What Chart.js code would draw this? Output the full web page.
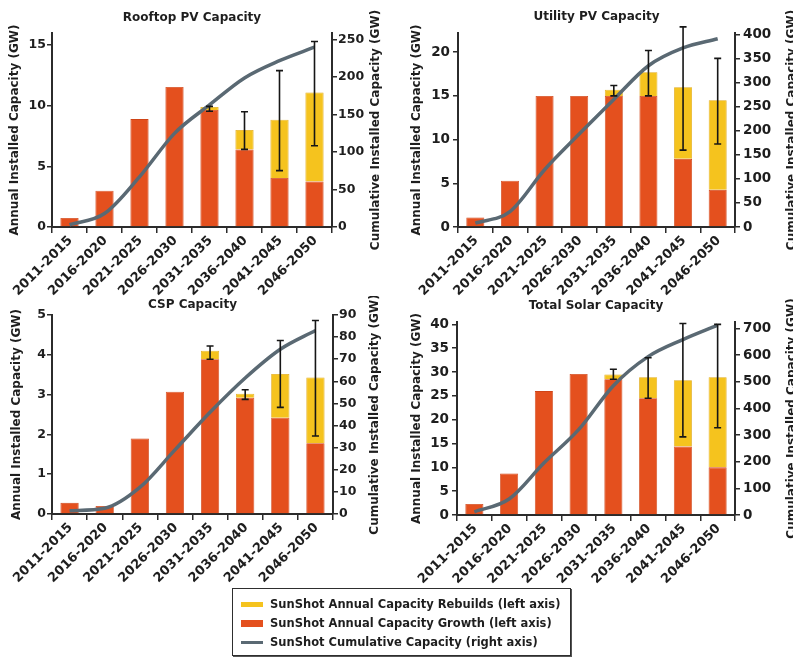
<!DOCTYPE html>
<html>
<head>
<meta charset="utf-8">
<script src="https://cdn.jsdelivr.net/npm/chart.js@4.4.1/dist/chart.umd.min.js"></script>
<style>
    html, body { margin: 0; padding: 0; background: #fff; width: 793px; height: 661px; overflow: hidden; position: relative; }
    .panel { position: absolute; }
    #legend { position: absolute; left: 232px; top: 588px; width: 337px; height: 66px; border: 1.5px solid #2e2e2e; box-shadow: 1px 1px 0 #555; background: #fff; font-family: 'DejaVu Sans', sans-serif; font-weight: bold; font-size: 11.5px; color: #1e1e1e; }
    #legend .row { position: absolute; left: 8px; height: 18px; line-height: 18px; white-space: nowrap; }
    #legend .sw { display: inline-block; width: 22px; vertical-align: middle; margin-right: 7px; }
</style>
</head>
<body>
<div class="panel" style="left:0;top:0"><canvas id="chartRooftop" width="397" height="296"></canvas></div>
<div class="panel" style="left:397px;top:0"><canvas id="chartUtility" width="406" height="296"></canvas></div>
<div class="panel" style="left:0;top:296px"><canvas id="chartCsp" width="397" height="300"></canvas></div>
<div class="panel" style="left:397px;top:296px"><canvas id="chartTotal" width="406" height="300"></canvas></div>
<div id="legend">
    <div class="row" style="top:6px"><span class="sw" style="height:5px;background:#f5c31e"></span>SunShot Annual Capacity Rebuilds (left axis)</div>
    <div class="row" style="top:25px"><span class="sw" style="height:7px;background:#e4501e"></span>SunShot Annual Capacity Growth (left axis)</div>
    <div class="row" style="top:44px"><span class="sw" style="height:3px;background:#5a6973"></span>SunShot Cumulative Capacity (right axis)</div>
</div>
<script>
// periods on the x axis
var periods = ['2011-2015', '2016-2020', '2021-2025', '2026-2030', '2031-2035', '2036-2040', '2041-2045', '2046-2050'];

// Rooftop PV
var rooftopGrowth = [0.75, 3.0, 8.9, 11.55, 9.65, 6.4, 4.05, 3.75];
var rooftopRebuilds = [0, 0, 0, 0, 0.25, 1.6, 4.8, 7.35];
var rooftopCumulative = [3, 18, 67, 125, 163, 199, 222, 240];
var rooftopErrLow = [null, null, null, null, 9.55, 6.4, 4.65, 6.7];
var rooftopErrHigh = [null, null, null, null, 9.95, 9.5, 12.9, 15.3];
var rooftopLeftTicks = [0, 5, 10, 15];
var rooftopRightTicks = [0, 50, 100, 150, 200, 250];

// Utility PV
var utilityGrowth = [1.1, 5.3, 15.0, 15.0, 15.0, 15.0, 7.8, 4.25];
var utilityRebuilds = [0, 0, 0, 0, 0.7, 2.7, 8.2, 10.25];
var utilityCumulative = [8, 32, 119, 193, 265, 335, 372, 391];
var utilityErrLow = [null, null, null, null, 15.0, 15.0, 8.8, 9.5];
var utilityErrHigh = [null, null, null, null, 16.2, 20.2, 22.9, 19.3];
var utilityLeftTicks = [0, 5, 10, 15, 20];
var utilityRightTicks = [0, 50, 100, 150, 200, 250, 300, 350, 400];

// CSP
var cspGrowth = [0.28, 0.2, 1.9, 3.07, 3.89, 2.92, 2.42, 1.78];
var cspRebuilds = [0, 0, 0, 0, 0.21, 0.1, 1.1, 1.65];
var cspCumulative = [1.5, 2.6, 12, 29, 46, 61.5, 74.5, 83];
var cspErrLow = [null, null, null, null, 3.89, 2.88, 2.68, 1.96];
var cspErrHigh = [null, null, null, null, 4.22, 3.12, 4.36, 4.86];
var cspLeftTicks = [0, 1, 2, 3, 4, 5];
var cspRightTicks = [0, 10, 20, 30, 40, 50, 60, 70, 80, 90];

// Total solar
var totalGrowth = [2.3, 8.7, 26.0, 29.6, 28.5, 24.5, 14.4, 10.0];
var totalRebuilds = [0, 0, 0, 0, 1.0, 4.4, 13.9, 18.9];
var totalCumulative = [12, 60, 195, 320, 485, 594, 658, 712];
var totalErrLow = [null, null, null, null, 28.5, 24.5, 16.4, 18.3];
var totalErrHigh = [null, null, null, null, 30.6, 33.0, 40.2, 40.0];
var totalLeftTicks = [0, 5, 10, 15, 20, 25, 30, 35, 40];
var totalRightTicks = [0, 100, 200, 300, 400, 500, 600, 700];

Chart.defaults.font.family = "'DejaVu Sans', sans-serif";
Chart.defaults.font.weight = 'bold';
Chart.defaults.font.size = 12;
Chart.defaults.color = '#1e1e1e';

var SolarClass = function ()
{
    var _self = this;
    var axisColor = '#2b2b2b';

    // error bars on top of the stacked bars
    this.errorBars = function (low, high)
    {
        return {
            id: 'errorBars',
            afterDatasetsDraw: function (chart) {
                var meta = chart.getDatasetMeta(1);
                var y = chart.scales.y;
                var ctx = chart.ctx;
                ctx.save();
                ctx.strokeStyle = '#161616';
                ctx.lineWidth = 1.6;
                low.forEach(function (lo, i) {
                    if (lo === null)
                        return;
                    var x = meta.data[i].x;
                    var yl = y.getPixelForValue(lo), yh = y.getPixelForValue(high[i]);
                    ctx.beginPath();
                    ctx.moveTo(x, yl); ctx.lineTo(x, yh);
                    ctx.moveTo(x - 3.5, yl); ctx.lineTo(x + 3.5, yl);
                    ctx.moveTo(x - 3.5, yh); ctx.lineTo(x + 3.5, yh);
                    ctx.stroke();
                });
                ctx.restore();
            }
        };
    }

    // right axis title reads bottom to top, like the left one
    this.rightTitle = function (text, x)
    {
        return {
            id: 'rightTitle',
            afterDraw: function (chart) {
                var ctx = chart.ctx;
                var a = chart.chartArea;
                ctx.save();
                ctx.translate(x, (a.top + a.bottom) / 2);
                ctx.rotate(-Math.PI / 2);
                ctx.font = "bold 12px 'DejaVu Sans', sans-serif";
                ctx.fillStyle = '#1e1e1e';
                ctx.textAlign = 'center';
                ctx.textBaseline = 'middle';
                ctx.fillText(text, 0, 0);
                ctx.restore();
            }
        };
    }

    this.build = function (id, p)
    {
        return new Chart(document.getElementById(id), {
            type: 'bar',
            data: {
                labels: periods,
                datasets: [{
                        label: 'SunShot Annual Capacity Growth (left axis)',
                        data: p.growth,
                        backgroundColor: '#e4501e',
                        borderColor: '#cf4417',
                        borderWidth: 0.8,
                        barPercentage: 0.52,
                        categoryPercentage: 1,
                        order: 1
                    }, {
                        label: 'SunShot Annual Capacity Rebuilds (left axis)',
                        data: p.rebuilds,
                        backgroundColor: '#f5c31e',
                        borderColor: '#e0a816',
                        borderWidth: 0.8,
                        barPercentage: 0.52,
                        categoryPercentage: 1,
                        order: 1
                    }, {
                        type: 'line',
                        label: 'SunShot Cumulative Capacity (right axis)',
                        data: p.cumulative,
                        yAxisID: 'y1',
                        borderColor: '#5a6973',
                        borderWidth: 3.5,
                        pointRadius: 0,
                        cubicInterpolationMode: 'monotone',
                        order: 0
                    }]
            },
            options: {
                responsive: false,
                animation: false,
                layout: { padding: 0 },
                plugins: {
                    legend: { display: false },
                    tooltip: { enabled: false },
                    title: {
                        display: true,
                        text: p.title,
                        fullSize: false,
                        font: { size: 12, weight: 'bold' },
                        color: '#1e1e1e',
                        padding: { top: p.titleTop, bottom: p.titleBottom }
                    }
                },
                scales: {
                    x: {
                        stacked: true,
                        grid: { drawOnChartArea: false, tickLength: 6, color: axisColor, lineWidth: 1.5 },
                        border: { color: axisColor, width: 2 },
                        ticks: { autoSkip: false, minRotation: 45, maxRotation: 45, padding: 0, labelOffset: 1, font: { size: 13, weight: 'bold' } },
                        afterFit: function (s) { s.height = p.xHeight; }
                    },
                    y: {
                        stacked: true,
                        position: 'left',
                        min: 0,
                        max: p.yMax,
                        afterBuildTicks: function (s) { s.ticks = p.leftTicks.map(function (v) { return { value: v }; }); },
                        grid: { drawOnChartArea: false, tickLength: 5, color: axisColor, lineWidth: 1.5 },
                        border: { color: axisColor, width: 2 },
                        ticks: { padding: p.tickPad, font: { size: p.tickSize, weight: 'bold' } },
                        title: {
                            display: true,
                            text: 'Annual Installed Capacity (GW)',
                            font: { size: 12, weight: 'bold' },
                            padding: { top: p.leftTitlePad, bottom: 0 }
                        },
                        afterFit: function (s) { s.width = p.yWidth; }
                    },
                    y1: {
                        position: 'right',
                        min: 0,
                        max: p.y1Max,
                        afterBuildTicks: function (s) { s.ticks = p.rightTicks.map(function (v) { return { value: v }; }); },
                        grid: { drawOnChartArea: false, tickLength: 5, color: axisColor, lineWidth: 1.5 },
                        border: { color: axisColor, width: 2 },
                        ticks: { padding: p.tickPad, font: { size: p.tickSize, weight: 'bold' } },
                        afterFit: function (s) { s.width = p.y1Width; }
                    }
                }
            },
            plugins: [_self.errorBars(p.errLow, p.errHigh), _self.rightTitle('Cumulative Installed Capacity (GW)', p.rightTitleX)]
        });
    }

    this.init = function ()
    {
        _self.build('chartRooftop', {
            title: 'Rooftop PV Capacity', growth: rooftopGrowth, rebuilds: rooftopRebuilds, cumulative: rooftopCumulative,
            errLow: rooftopErrLow, errHigh: rooftopErrHigh, leftTicks: rooftopLeftTicks, rightTicks: rooftopRightTicks,
            yMax: 16, y1Max: 259, titleTop: 10.2, titleBottom: 8.4, xHeight: 69, yWidth: 52, y1Width: 65,
            leftTitlePad: 8, rightTitleX: 376, tickPad: 1, tickSize: 12.5
        });
        _self.build('chartUtility', {
            title: 'Utility PV Capacity', growth: utilityGrowth, rebuilds: utilityRebuilds, cumulative: utilityCumulative,
            errLow: utilityErrLow, errHigh: utilityErrHigh, leftTicks: utilityLeftTicks, rightTicks: utilityRightTicks,
            yMax: 22.2, y1Max: 403, titleTop: 9.5, titleBottom: 9.1, xHeight: 69, yWidth: 61, y1Width: 68,
            leftTitlePad: 12.8, rightTitleX: 395, tickPad: 3, tickSize: 13.5
        });
        _self.build('chartCsp', {
            title: 'CSP Capacity', growth: cspGrowth, rebuilds: cspRebuilds, cumulative: cspCumulative,
            errLow: cspErrLow, errHigh: cspErrHigh, leftTicks: cspLeftTicks, rightTicks: cspRightTicks,
            yMax: 5, y1Max: 90, titleTop: 2, titleBottom: 2.6, xHeight: 82, yWidth: 52, y1Width: 64,
            leftTitlePad: 9.8, rightTitleX: 375, tickPad: 1, tickSize: 12.5
        });
        _self.build('chartTotal', {
            title: 'Total Solar Capacity', growth: totalGrowth, rebuilds: totalRebuilds, cumulative: totalCumulative,
            errLow: totalErrLow, errHigh: totalErrHigh, leftTicks: totalLeftTicks, rightTicks: totalRightTicks,
            yMax: 40.5, y1Max: 724, titleTop: 2.2, titleBottom: 9.4, xHeight: 81, yWidth: 60, y1Width: 68,
            leftTitlePad: 12.8, rightTitleX: 395, tickPad: 3, tickSize: 13.5
        });
    }

    _self.init();
}

var Solar = new SolarClass();
</script>
</body>
</html>
